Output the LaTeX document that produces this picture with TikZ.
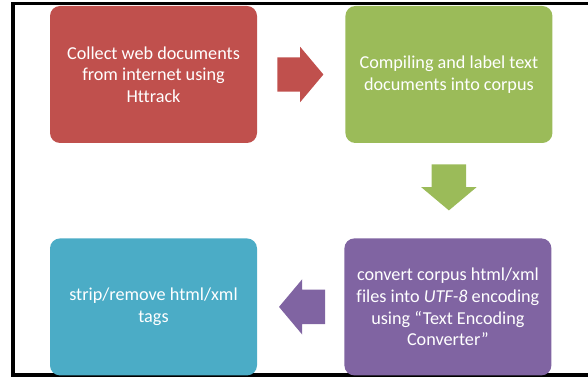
\documentclass[tikz,border=0pt]{standalone}
\usepackage{fontspec}
\setmainfont{Carlito}[Ligatures=NoCommon]
\usepackage{tikz}
\usetikzlibrary{positioning, shapes.arrows, calc}

\definecolor{boxred}{HTML}{C0504D}
\definecolor{boxgreen}{HTML}{9BBB59}
\definecolor{boxpurple}{HTML}{8064A2}
\definecolor{boxteal}{HTML}{4BACC6}

\begin{document}
\begin{tikzpicture}[
    x=1pt, y=-1pt,
    block/.style={rectangle, rounded corners=10pt, minimum width=207pt, minimum height=137pt, text=white, align=center, inner sep=0pt, font=\fontsize{18.2}{21.7}\selectfont},
    flow/.style={single arrow, single arrow head extend=10.5pt, single arrow tip angle=100, minimum height=46pt, inner xsep=0pt, inner ysep=17pt, anchor=tail}
]
\useasboundingbox (0,0) rectangle (588,379);
% Frame
\draw [line width=3.5pt] (588,3.5) -- (13,3.5) -- (13,375) -- (588,375);
% Blocks
\node (collect) [block, fill=boxred] at (153.5,74.5) {Collect web documents \\ from internet using \\ Httrack};
\node (compile) [block, fill=boxgreen, right=88pt of collect] {Compiling and label text \\ documents into corpus};
\node (strip) [block, fill=boxteal, below=95pt of collect] {strip/remove html/xml \\ tags};
\node (convert) [block, fill=boxpurple, right=87pt of strip] {convert corpus html/xml \\ files into \textit{UTF-8} encoding \\ using “Text Encoding \\ Converter”};
% Arrows
\node (a1) [flow, fill=boxred] at ([xshift=20pt]collect.east) {};
\node (a2) [flow, fill=boxgreen, rotate=-90] at ([yshift=-21pt]compile.south) {};
\node (a3) [flow, fill=boxpurple, rotate=180] at ([xshift=-19pt]convert.west) {};
\end{tikzpicture}
\end{document}
